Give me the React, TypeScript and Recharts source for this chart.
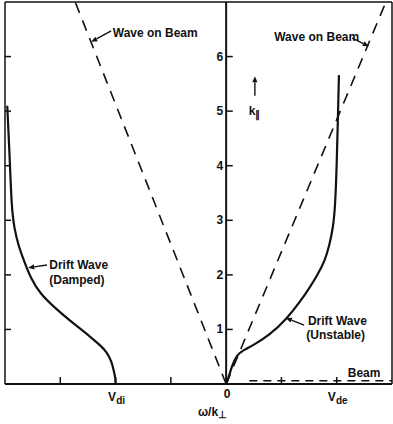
import React from "react";
import {
  ComposedChart,
  Line,
  XAxis,
  YAxis,
  ReferenceLine,
  ReferenceDot,
} from "recharts";

// omega/k_perp in units of the tick spacing, k_par on the vertical axis
const X_TICKS = [-3, -2, -1, 0, 1, 2];
const TOP_TICKS = [-3, -1, 1, 2];
const K_TICKS = [1, 2, 3, 4, 5, 6];
const X_LABELS: Record<string, [string, string]> = {
  "-2": ["V", "di"],
  "0": ["0", ""],
  "2": ["V", "de"],
};

const DAMPED = [
  { x: -2.0, k: 0 },
  { x: -2.0, k: 0.1 },
  { x: -2.03, k: 0.23 },
  { x: -2.07, k: 0.41 },
  { x: -2.16, k: 0.59 },
  { x: -2.28, k: 0.71 },
  { x: -2.46, k: 0.87 },
  { x: -2.76, k: 1.11 },
  { x: -3.06, k: 1.36 },
  { x: -3.37, k: 1.66 },
  { x: -3.53, k: 1.93 },
  { x: -3.65, k: 2.24 },
  { x: -3.76, k: 2.54 },
  { x: -3.83, k: 2.85 },
  { x: -3.88, k: 3.2 },
  { x: -3.92, k: 4.29 },
  { x: -3.96, k: 5.1 },
];

const UNSTABLE = [
  { x: 0, k: 0 },
  { x: 0.04, k: 0.1 },
  { x: 0.1, k: 0.32 },
  { x: 0.19, k: 0.53 },
  { x: 0.31, k: 0.62 },
  { x: 0.49, k: 0.71 },
  { x: 0.79, k: 0.9 },
  { x: 1.1, k: 1.2 },
  { x: 1.34, k: 1.51 },
  { x: 1.52, k: 1.78 },
  { x: 1.65, k: 2.0 },
  { x: 1.78, k: 2.24 },
  { x: 1.87, k: 2.55 },
  { x: 1.93, k: 2.85 },
  { x: 1.97, k: 3.2 },
  { x: 2.0, k: 4.0 },
  { x: 2.02, k: 4.8 },
  { x: 2.04, k: 5.66 },
];

const WAVE_LEFT = [
  { x: 0, k: 0 },
  { x: -2.73, k: 7 },
];
const WAVE_RIGHT = [
  { x: 0, k: 0 },
  { x: 2.89, k: 7 },
];
const BEAM = [
  { x: 0.42, k: 0.06 },
  { x: 3, k: 0.06 },
];

const NOTES = [
  { text: "Wave on Beam", x: -2.05, k: 6.36 },
  { text: "Wave on Beam", x: 0.87, k: 6.29 },
  { text: "Drift Wave", x: -3.2, k: 2.11 },
  { text: "(Damped)", x: -3.2, k: 1.84 },
  { text: "Drift Wave", x: 1.48, k: 1.08 },
  { text: "(Unstable)", x: 1.45, k: 0.82 },
  { text: "Beam", x: 2.2, k: 0.13 },
];

const ARROWS = [
  [{ x: -2.08, y: 6.47 }, { x: -2.44, y: 6.27 }],
  [{ x: 2.28, y: 6.34 }, { x: 2.58, y: 6.19 }],
  [{ x: 0.52, y: 5.28 }, { x: 0.52, y: 5.64 }],
  [{ x: -3.24, y: 2.18 }, { x: -3.58, y: 2.13 }],
  [{ x: 1.41, y: 1.08 }, { x: 1.08, y: 1.21 }],
];

const FONT = "'Liberation Sans', Arial, sans-serif";
const INK = "#111";

const arrowShape = (p: any) => {
  const { x1, y1, x2, y2 } = p;
  const a = Math.atan2(y2 - y1, x2 - x1);
  const bx = x2 - 6 * Math.cos(a);
  const by = y2 - 6 * Math.sin(a);
  const w = 2.6;
  const pts = `${x2},${y2} ${bx - w * Math.sin(a)},${by + w * Math.cos(a)} ${bx + w * Math.sin(a)},${by - w * Math.cos(a)}`;
  return (
    <g>
      <line x1={x1} y1={y1} x2={bx} y2={by} stroke={INK} strokeWidth={1.4} />
      <polygon points={pts} fill={INK} />
    </g>
  );
};

const BottomTick = (p: any) => {
  const v = Number(p.payload.value);
  const lbl = X_LABELS[String(v)];
  return (
    <g>
      {v !== 0 && <line x1={p.x} x2={p.x} y1={p.y} y2={p.y - 7} stroke={INK} strokeWidth={1.5} />}
      {lbl && (
        <text x={p.x + 1} y={p.y + (v === 0 ? 14 : 17)} textAnchor="middle" fontFamily={FONT} fontWeight="bold" fontSize={12} fill={INK}>
          {lbl[0]}
          {lbl[1] ? (
            <tspan fontSize={10} dy={3}>
              {lbl[1]}
            </tspan>
          ) : null}
        </text>
      )}
      {v === 0 && (
        <text x={p.x + 1} y={p.y + 32} textAnchor="end" fontFamily={FONT} fontWeight="bold" fontSize={12} fill={INK}>
          ω/k
          <tspan fontSize={10} dy={2}>
            ⊥
          </tspan>
        </text>
      )}
    </g>
  );
};

const TopTick = (p: any) => (
  <line x1={p.x} x2={p.x} y1={p.y} y2={p.y + 7} stroke={INK} strokeWidth={1.5} />
);
const LeftTick = (p: any) => (
  <line x1={p.x} x2={p.x + 6} y1={p.y} y2={p.y} stroke={INK} strokeWidth={1.5} />
);
const RightTick = (p: any) => (
  <line x1={p.x} x2={p.x - 6} y1={p.y} y2={p.y} stroke={INK} strokeWidth={1.5} />
);

export default function App() {
  return (
    <div style={{ position: "absolute", left: 0, top: 0, background: "#fff" }}>
      <ComposedChart width={393} height={424} margin={{ top: 1, right: 0, bottom: 0, left: 4 }}>
        <XAxis
          xAxisId="b"
          dataKey="x"
          type="number"
          domain={[-4, 3]}
          ticks={X_TICKS}
          orientation="bottom"
          height={40}
          tickSize={0}
          tickMargin={0}
          tick={BottomTick}
          axisLine={{ stroke: INK, strokeWidth: 2 }}
          interval={0}
        />
        <XAxis
          xAxisId="t"
          dataKey="x"
          type="number"
          domain={[-4, 3]}
          ticks={TOP_TICKS}
          orientation="top"
          height={1}
          tickSize={0}
          tickMargin={0}
          tick={TopTick}
          axisLine={{ stroke: INK, strokeWidth: 1.5 }}
          interval={0}
        />
        <YAxis
          yAxisId="l"
          dataKey="k"
          type="number"
          domain={[0, 7]}
          ticks={K_TICKS}
          width={1}
          tickSize={0}
          tickMargin={0}
          tick={LeftTick}
          axisLine={{ stroke: INK, strokeWidth: 1.5 }}
          interval={0}
        />
        <YAxis
          yAxisId="r"
          orientation="right"
          type="number"
          domain={[0, 7]}
          ticks={K_TICKS}
          width={1}
          tickSize={0}
          tickMargin={0}
          tick={RightTick}
          axisLine={{ stroke: INK, strokeWidth: 1.5 }}
          interval={0}
        />

        <ReferenceLine xAxisId="b" yAxisId="l" x={0} stroke={INK} strokeWidth={2} />
        {K_TICKS.map((k) => (
          <ReferenceLine
            key={"c" + k}
            xAxisId="b"
            yAxisId="l"
            segment={[
              { x: 0, y: k },
              { x: 0.12, y: k },
            ]}
            shape={(p: any) => (
              <g>
                <line x1={p.x1} y1={p.y1} x2={p.x2} y2={p.y2} stroke={INK} strokeWidth={1.5} />
                <text x={p.x1 - 3} y={p.y1 + 4} textAnchor="end" fontFamily={FONT} fontWeight="bold" fontSize={12} fill={INK}>
                  {k}
                </text>
              </g>
            )}
          />
        ))}

        <Line xAxisId="b" yAxisId="l" data={WAVE_LEFT} dataKey="k" type="linear" stroke={INK} strokeWidth={1.6} strokeDasharray="11 8" dot={false} activeDot={false} isAnimationActive={false} />
        <Line xAxisId="b" yAxisId="l" data={WAVE_RIGHT} dataKey="k" type="linear" stroke={INK} strokeWidth={1.6} strokeDasharray="11 8" dot={false} activeDot={false} isAnimationActive={false} />
        <Line xAxisId="b" yAxisId="l" data={BEAM} dataKey="k" type="linear" stroke={INK} strokeWidth={1.3} strokeDasharray="8 6" dot={false} activeDot={false} isAnimationActive={false} />
        <Line xAxisId="b" yAxisId="l" data={DAMPED} dataKey="k" type="basis" stroke={INK} strokeWidth={2.2} dot={false} activeDot={false} isAnimationActive={false} />
        <Line xAxisId="b" yAxisId="l" data={UNSTABLE} dataKey="k" type="basis" stroke={INK} strokeWidth={2.2} dot={false} activeDot={false} isAnimationActive={false} />

        {ARROWS.map((seg, i) => (
          <ReferenceLine key={"a" + i} xAxisId="b" yAxisId="l" segment={seg} shape={arrowShape} />
        ))}
        {NOTES.map((n, i) => (
          <ReferenceDot
            key={"n" + i}
            xAxisId="b"
            yAxisId="l"
            x={n.x}
            y={n.k}
            r={0}
            shape={(p: any) => (
              <text x={p.cx} y={p.cy} fontFamily={FONT} fontWeight="bold" fontSize={12} fill={INK}>
                {n.text}
              </text>
            )}
          />
        ))}
        <ReferenceDot
          xAxisId="b"
          yAxisId="l"
          x={0.41}
          y={4.93}
          r={0}
          shape={(p: any) => (
            <text x={p.cx} y={p.cy} fontFamily={FONT} fontWeight="bold" fontSize={12} fill={INK}>
              k
              <tspan fontSize={10} dy={3}>
                ∥
              </tspan>
            </text>
          )}
        />
      </ComposedChart>
    </div>
  );
}
